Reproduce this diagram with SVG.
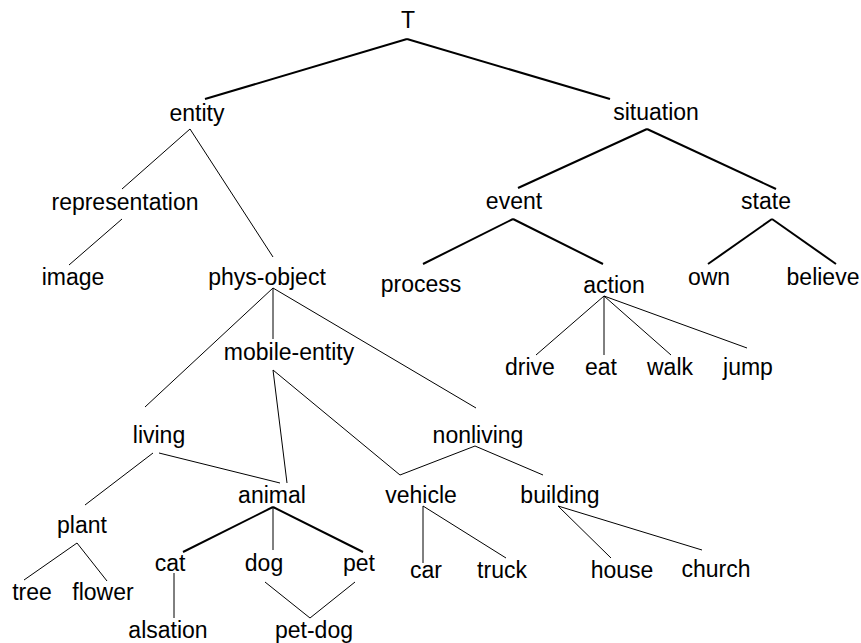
<svg xmlns="http://www.w3.org/2000/svg" width="861" height="643" viewBox="0 0 861 643">
<style>
  text { font-family: "Liberation Sans", Arial, sans-serif; font-size: 23px; fill: #000; text-anchor: middle; }
  .thin { stroke: #000; stroke-width: 1; fill: none; }
  .thick { stroke: #000; stroke-width: 2; fill: none; }
</style>
<rect width="861" height="643" fill="#fff"/>
<g id="connectors">
  <line class="thick" x1="407" y1="39" x2="205" y2="99"/>
  <line class="thick" x1="407" y1="39" x2="610" y2="99"/>
  <line class="thick" x1="647" y1="129" x2="518" y2="188"/>
  <line class="thick" x1="647" y1="129" x2="776" y2="189"/>
  <line class="thick" x1="513" y1="219" x2="423" y2="264"/>
  <line class="thick" x1="513" y1="219" x2="603" y2="264"/>
  <line class="thick" x1="772" y1="219" x2="708" y2="264"/>
  <line class="thick" x1="772" y1="219" x2="836" y2="264"/>
  <line class="thick" x1="273" y1="507" x2="183" y2="552"/>
  <line class="thick" x1="273" y1="507" x2="363" y2="552"/>
  <line class="thin" x1="190" y1="129" x2="122" y2="189"/>
  <line class="thin" x1="190" y1="129" x2="273" y2="257"/>
  <line class="thin" x1="122" y1="219" x2="69" y2="265"/>
  <line class="thin" x1="273" y1="288" x2="145" y2="407"/>
  <line class="thin" x1="273" y1="288" x2="273" y2="339"/>
  <line class="thin" x1="273" y1="288" x2="476" y2="408"/>
  <line class="thin" x1="604" y1="296" x2="536" y2="355"/>
  <line class="thin" x1="604" y1="296" x2="604" y2="355"/>
  <line class="thin" x1="604" y1="296" x2="671" y2="355"/>
  <line class="thin" x1="604" y1="296" x2="747" y2="348"/>
  <line class="thin" x1="273" y1="370" x2="287" y2="483"/>
  <line class="thin" x1="273" y1="370" x2="400" y2="475"/>
  <line class="thin" x1="475" y1="446" x2="400" y2="475"/>
  <line class="thin" x1="475" y1="446" x2="543" y2="475"/>
  <line class="thin" x1="153" y1="453" x2="85" y2="505"/>
  <line class="thin" x1="159" y1="453" x2="280" y2="483"/>
  <line class="thin" x1="77" y1="543" x2="24" y2="580"/>
  <line class="thin" x1="77" y1="543" x2="107" y2="581"/>
  <line class="thin" x1="273" y1="507" x2="273" y2="550"/>
  <line class="thin" x1="174" y1="573" x2="174" y2="618"/>
  <line class="thin" x1="265" y1="582" x2="310" y2="618"/>
  <line class="thin" x1="355" y1="582" x2="310" y2="618"/>
  <line class="thin" x1="423" y1="506" x2="423" y2="563"/>
  <line class="thin" x1="423" y1="506" x2="506" y2="558"/>
  <line class="thin" x1="558" y1="506" x2="611" y2="558"/>
  <line class="thin" x1="558" y1="506" x2="702" y2="550"/>
</g>
<g id="node-T"><text x="408" y="28">T</text></g>
<g id="node-entity"><text x="197" y="121">entity</text></g>
<g id="node-situation"><text x="656" y="120">situation</text></g>
<g id="node-representation"><text x="125" y="210">representation</text></g>
<g id="node-image"><text x="73" y="285">image</text></g>
<g id="node-phys-object"><text x="267" y="285">phys-object</text></g>
<g id="node-event"><text x="514" y="209">event</text></g>
<g id="node-state"><text x="766" y="209">state</text></g>
<g id="node-process"><text x="421" y="292">process</text></g>
<g id="node-action"><text x="614" y="293">action</text></g>
<g id="node-own"><text x="709" y="285">own</text></g>
<g id="node-believe"><text x="823" y="285">believe</text></g>
<g id="node-drive"><text x="530" y="375">drive</text></g>
<g id="node-eat"><text x="601" y="375">eat</text></g>
<g id="node-walk"><text x="670" y="375">walk</text></g>
<g id="node-jump"><text x="748" y="375">jump</text></g>
<g id="node-mobile-entity"><text x="289" y="360">mobile-entity</text></g>
<g id="node-living"><text x="159" y="443">living</text></g>
<g id="node-nonliving"><text x="478" y="443">nonliving</text></g>
<g id="node-animal"><text x="272" y="503">animal</text></g>
<g id="node-vehicle"><text x="421" y="503">vehicle</text></g>
<g id="node-building"><text x="560" y="503">building</text></g>
<g id="node-plant"><text x="82" y="533">plant</text></g>
<g id="node-tree"><text x="32" y="600">tree</text></g>
<g id="node-flower"><text x="103" y="600">flower</text></g>
<g id="node-cat"><text x="170" y="571">cat</text></g>
<g id="node-dog"><text x="264" y="571">dog</text></g>
<g id="node-pet"><text x="359" y="571">pet</text></g>
<g id="node-car"><text x="426" y="578">car</text></g>
<g id="node-truck"><text x="502" y="578">truck</text></g>
<g id="node-house"><text x="622" y="578">house</text></g>
<g id="node-church"><text x="716" y="577">church</text></g>
<g id="node-alsation"><text x="168" y="638">alsation</text></g>
<g id="node-pet-dog"><text x="314" y="638">pet-dog</text></g>
</svg>
